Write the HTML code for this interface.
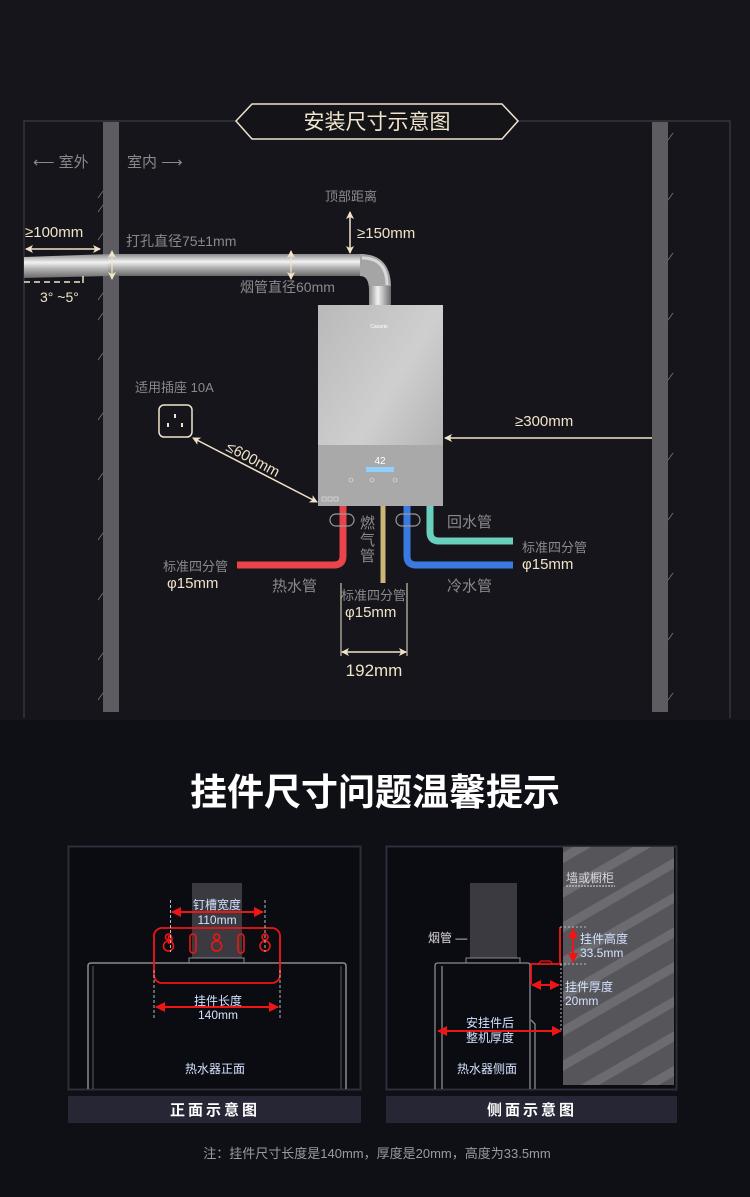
<!DOCTYPE html>
<html><head><meta charset="utf-8"><style>
html,body{margin:0;padding:0;background:#0f0f16;}
svg{display:block;}
text{font-family:"Liberation Sans","Noto Sans CJK SC",sans-serif;}
</style></head><body>
<svg width="750" height="1197" viewBox="0 0 750 1197" xmlns="http://www.w3.org/2000/svg">
<defs>
<linearGradient id="pipe" x1="0" y1="0" x2="0" y2="1">
<stop offset="0" stop-color="#8a8a8a"/><stop offset="0.35" stop-color="#f2f2f2"/><stop offset="0.6" stop-color="#b5b5b5"/><stop offset="1" stop-color="#6a6a6a"/></linearGradient>
<linearGradient id="vpipe" x1="0" y1="0" x2="1" y2="0">
<stop offset="0" stop-color="#8a8a8a"/><stop offset="0.4" stop-color="#f2f2f2"/><stop offset="1" stop-color="#6a6a6a"/></linearGradient>
<linearGradient id="heater" x1="0" y1="0" x2="1" y2="1">
<stop offset="0" stop-color="#b9b9b9"/><stop offset="0.5" stop-color="#cfcfcf"/><stop offset="1" stop-color="#a8a8a8"/></linearGradient>
<pattern id="hatch" width="30" height="30" patternUnits="userSpaceOnUse" patternTransform="rotate(-30)">
<rect width="30" height="30" fill="#55555a"/><rect width="30" height="9" fill="#6b6b70"/></pattern>
<marker id="ac" markerWidth="8" markerHeight="8" refX="7" refY="4" orient="auto-start-reverse" markerUnits="userSpaceOnUse"><path d="M0,0 L8,4 L0,8 L2,4z" fill="#f1e3c8"/></marker>
<marker id="ar" markerWidth="10" markerHeight="10" refX="9" refY="5" orient="auto-start-reverse" markerUnits="userSpaceOnUse"><path d="M0,0 L10,5 L0,10z" fill="#f01515"/></marker>
</defs>
<rect width="750" height="720" fill="#15151b"/>
<rect y="720" width="750" height="477" fill="#0f0f16"/>
<!-- frame -->
<path d="M24,718 V121 H236 M518,121 H730 V718" fill="none" stroke="#3c3c42" stroke-width="1.2"/>
<!-- title -->
<path d="M252,104 H502 L518,121 L502,139 H252 L236,121 Z" fill="#141418" stroke="#efe4cc" stroke-width="1.5"/>
<text x="377" y="129" font-size="21" fill="#efe4cc" text-anchor="middle">安装尺寸示意图</text>
<!-- walls -->
<rect x="103" y="122" width="16" height="590" fill="#5d5d61"/>
<rect x="652" y="122" width="16" height="590" fill="#5d5d61"/>
<g stroke="#6a6a6e" stroke-width="1">
<path d="M98,198 l5,-7 M98,212 l5,-7 M98,240 l5,-7 M98,300 l5,-7 M98,320 l5,-7 M98,360 l5,-7 M98,420 l5,-7 M98,480 l5,-7 M98,540 l5,-7 M98,600 l5,-7 M98,660 l5,-7 M98,700 l5,-7"/>
<path d="M668,140 l5,-7 M668,200 l5,-7 M668,260 l5,-7 M668,320 l5,-7 M668,380 l5,-7 M668,460 l5,-7 M668,520 l5,-7 M668,580 l5,-7 M668,640 l5,-7 M668,700 l5,-7"/>
</g>
<!-- inside/outside -->
<text x="33" y="167" font-size="15" fill="#8a8a8c">⟵ 室外</text>
<text x="127" y="167" font-size="15" fill="#8a8a8c">室内 ⟶</text>
<text x="25" y="237" font-size="15" fill="#f1e3c8">≥100mm</text>
<line x1="26" y1="249" x2="100" y2="249" stroke="#f1e3c8" stroke-width="1.5" marker-start="url(#ac)" marker-end="url(#ac)"/>
<text x="126" y="246" font-size="14" fill="#8a8a8c">打孔直径75±1mm</text>
<!-- pipe -->
<path d="M24,257 L110,254 L110,276 L24,278 Z" fill="url(#pipe)"/>
<rect x="108" y="254" width="256" height="22" fill="url(#pipe)"/>
<path d="M360,254 Q392,254 391,290 L391,305 L369,305 L369,290 Q369,276 360,276 Z" fill="#a5a5a5"/>
<path d="M362,258 Q387,258 387,285" fill="none" stroke="#d8d8d8" stroke-width="3"/>
<rect x="369" y="286" width="22" height="19" fill="url(#vpipe)"/>
<path d="M24,282 H80" stroke="#f1e3c8" stroke-width="1.5" stroke-dasharray="6,4"/>
<path d="M83,276 v7" stroke="#f1e3c8" stroke-width="1.5"/>
<text x="40" y="302" font-size="14" fill="#f1e3c8">3° ~5°</text>
<line x1="112" y1="251" x2="112" y2="279" stroke="#f1e3c8" stroke-width="1.2" marker-start="url(#ac)" marker-end="url(#ac)"/>
<line x1="291" y1="251" x2="291" y2="279" stroke="#f1e3c8" stroke-width="1.2" marker-start="url(#ac)" marker-end="url(#ac)"/>
<text x="240" y="292" font-size="14" fill="#8a8a8c">烟管直径60mm</text>
<text x="325" y="201" font-size="13" fill="#8a8a8c">顶部距离</text>
<line x1="350" y1="212" x2="350" y2="253" stroke="#f1e3c8" stroke-width="1.5" marker-start="url(#ac)" marker-end="url(#ac)"/>
<text x="357" y="238" font-size="15" fill="#f1e3c8">≥150mm</text>
<!-- heater -->
<rect x="318" y="305" width="125" height="201" fill="url(#heater)"/>
<rect x="318" y="445" width="125" height="61" fill="#a9a9a9"/>
<text x="379" y="328" font-size="5" fill="#fff" text-anchor="middle">Casarte</text>
<text x="380" y="464" font-size="10" fill="#fff" text-anchor="middle">42</text>
<rect x="366" y="467" width="28" height="5" fill="#8fd0ff"/>
<g fill="none" stroke="#e8e8e8" stroke-width="0.6"><circle cx="351" cy="480" r="2"/><circle cx="372" cy="480" r="2"/><circle cx="395" cy="480" r="2"/><rect x="322" y="497" width="4" height="4"/><rect x="328" y="497" width="4" height="4"/><rect x="334" y="497" width="4" height="4"/></g>
<!-- socket -->
<text x="135" y="392" font-size="13" fill="#8a8a8c">适用插座 10A</text>
<rect x="159" y="405" width="33" height="32" rx="5" fill="none" stroke="#f1e3c8" stroke-width="1.5"/>
<rect x="174" y="414" width="2" height="4" fill="#f1e3c8"/><rect x="167" y="423" width="2" height="4" fill="#f1e3c8"/><rect x="181" y="423" width="2" height="4" fill="#f1e3c8"/>
<line x1="193" y1="438" x2="317" y2="502" stroke="#f1e3c8" stroke-width="1.5" marker-start="url(#ac)" marker-end="url(#ac)"/>
<text x="225" y="450" font-size="15" fill="#f1e3c8" transform="rotate(28 225 450)">≤600mm</text>
<text x="515" y="426" font-size="15" fill="#f1e3c8">≥300mm</text>
<line x1="445" y1="438" x2="652" y2="438" stroke="#f1e3c8" stroke-width="1.5" marker-start="url(#ac)"/>
<!-- water pipes -->
<path d="M343,506 V556 Q343,565 334,565 H237" fill="none" stroke="#e8444a" stroke-width="7"/>
<path d="M383,506 V583" stroke="#cdb577" stroke-width="5"/>
<path d="M407,506 V556 Q407,565 416,565 H513" fill="none" stroke="#3a7ae0" stroke-width="7"/>
<path d="M430,506 V532 Q430,541 439,541 H513" fill="none" stroke="#6ad0bd" stroke-width="7"/>
<rect x="330" y="514" width="24" height="12" rx="6" fill="none" stroke="#9a9a9c" stroke-width="1.2"/>
<rect x="396" y="514" width="24" height="12" rx="6" fill="none" stroke="#9a9a9c" stroke-width="1.2"/>
<text x="360" y="528" font-size="15" fill="#8a8a8c">燃</text>
<text x="360" y="545" font-size="15" fill="#8a8a8c">气</text>
<text x="360" y="561" font-size="15" fill="#8a8a8c">管</text>
<text x="447" y="527" font-size="15" fill="#8a8a8c">回水管</text>
<text x="522" y="552" font-size="13" fill="#8a8a8c">标准四分管</text>
<text x="522" y="569" font-size="15" fill="#f1e3c8">φ15mm</text>
<text x="447" y="591" font-size="15" fill="#8a8a8c">冷水管</text>
<text x="272" y="591" font-size="15" fill="#8a8a8c">热水管</text>
<text x="163" y="571" font-size="13" fill="#8a8a8c">标准四分管</text>
<text x="167" y="588" font-size="15" fill="#f1e3c8">φ15mm</text>
<text x="341" y="600" font-size="13" fill="#8a8a8c">标准四分管</text>
<text x="345" y="617" font-size="15" fill="#f1e3c8">φ15mm</text>
<path d="M341,583 V656 M407,583 V656" stroke="#f1e3c8" stroke-width="1"/>
<line x1="342" y1="652" x2="406" y2="652" stroke="#f1e3c8" stroke-width="1.5" marker-start="url(#ac)" marker-end="url(#ac)"/>
<text x="374" y="676" font-size="17" fill="#f1e3c8" text-anchor="middle">192mm</text>
<!-- bottom title -->
<text x="375" y="805" font-size="37" font-weight="bold" fill="#ffffff" text-anchor="middle">挂件尺寸问题温馨提示</text>
<!-- left panel -->
<rect x="68.5" y="846.5" width="292" height="243" fill="#0b0b12" stroke="#2e2e3c" stroke-width="2"/>
<rect x="192" y="883" width="50" height="75" fill="#3a3a40"/>
<path d="M88,1089 V966 Q88,963 91,963 H343 Q346,963 346,966 V1089" fill="none" stroke="#8a8a90" stroke-width="1.5"/>
<path d="M93,1089 V966 M341,1089 V966" stroke="#5a5a60" stroke-width="1"/>
<rect x="189" y="958" width="55" height="5" fill="none" stroke="#8a8a90"/>
<rect x="154" y="928" width="126" height="55" rx="8" fill="none" stroke="#f01515" stroke-width="1.8"/>
<g fill="none" stroke="#f01515" stroke-width="1.6">
<path d="M168.5,936 a3.5,3.5 0 0 1 0,7 a6,6 0 1 1 0,0z"/>
<circle cx="168.5" cy="946" r="5"/><circle cx="168.5" cy="937" r="3"/>
<rect x="190" y="934" width="6" height="19" rx="3"/>
<circle cx="216.7" cy="946" r="5"/><circle cx="216.7" cy="937" r="3"/>
<rect x="238" y="934" width="6" height="19" rx="3"/>
<circle cx="265" cy="946" r="5"/><circle cx="265" cy="937" r="3"/>
</g>
<path d="M170.5,900 V952 M265,900 V952 M154,970 V1018 M280,970 V1018" stroke="#bbb" stroke-width="1" stroke-dasharray="3,2"/>
<line x1="172" y1="912" x2="263" y2="912" stroke="#f01515" stroke-width="2" marker-start="url(#ar)" marker-end="url(#ar)"/>
<line x1="156" y1="1007" x2="278" y2="1007" stroke="#f01515" stroke-width="2" marker-start="url(#ar)" marker-end="url(#ar)"/>
<g font-size="12" fill="#d3e2ff" text-anchor="middle">
<text x="217" y="909">钉槽宽度</text><text x="217" y="924">110mm</text>
<text x="218" y="1005">挂件长度</text><text x="218" y="1019">140mm</text>
<text x="215" y="1073">热水器正面</text>
</g>
<!-- right panel -->
<rect x="386.5" y="846.5" width="290" height="243" fill="#0b0b12" stroke="#2e2e3c" stroke-width="2"/>
<rect x="563" y="847" width="111" height="238" fill="url(#hatch)"/>
<text x="566" y="882" font-size="12" fill="#d8d8dc">墙或橱柜</text>
<path d="M566,886 H615" stroke="#ddd" stroke-dasharray="2,1"/>
<rect x="470" y="883" width="47" height="75" fill="#3a3a40"/>
<rect x="466" y="958" width="54" height="5" fill="none" stroke="#8a8a90"/>
<path d="M435,1089 V966 Q435,963 438,963 H528 Q530,963 530,966 V1089 M442,1089 V966 M535,1089 V1024 l-4,-4" fill="none" stroke="#8a8a90" stroke-width="1.3"/>
<text x="428" y="942" font-size="12" fill="#d8d8dc">烟管 —</text>
<path d="M560,927 V964 H531 V984" fill="none" stroke="#f01515" stroke-width="1.8"/>
<path d="M538,964 l3,-3 h9 l3,3" fill="none" stroke="#f01515" stroke-width="1.2"/>
<path d="M560,927 H587 M560,964 H587 M561,964 V1030" stroke="#bbb" stroke-dasharray="2,2"/>
<line x1="573" y1="929" x2="573" y2="962" stroke="#f01515" stroke-width="2" marker-start="url(#ar)" marker-end="url(#ar)"/>
<line x1="532" y1="985" x2="559" y2="985" stroke="#f01515" stroke-width="2" marker-start="url(#ar)" marker-end="url(#ar)"/>
<line x1="438" y1="1031" x2="561" y2="1031" stroke="#f01515" stroke-width="2" marker-start="url(#ar)" marker-end="url(#ar)"/>
<g font-size="12" fill="#d3e2ff">
<text x="580" y="943">挂件高度</text><text x="580" y="957">33.5mm</text>
<text x="565" y="991">挂件厚度</text><text x="565" y="1005">20mm</text>
<text x="490" y="1027" text-anchor="middle">安挂件后</text><text x="490" y="1042" text-anchor="middle">整机厚度</text>
<text x="487" y="1073" text-anchor="middle">热水器侧面</text>
</g>
<!-- caption bars -->
<rect x="68" y="1096" width="293" height="27" fill="#262635"/>
<rect x="386" y="1096" width="291" height="27" fill="#262635"/>
<text x="215" y="1115" font-size="15" font-weight="bold" fill="#fff" text-anchor="middle" letter-spacing="3">正面示意图</text>
<text x="532" y="1115" font-size="15" font-weight="bold" fill="#fff" text-anchor="middle" letter-spacing="3">侧面示意图</text>
<text x="377" y="1158" font-size="13" fill="#9a9aa0" text-anchor="middle">注：挂件尺寸长度是140mm，厚度是20mm，高度为33.5mm</text>
</svg>
</body></html>
